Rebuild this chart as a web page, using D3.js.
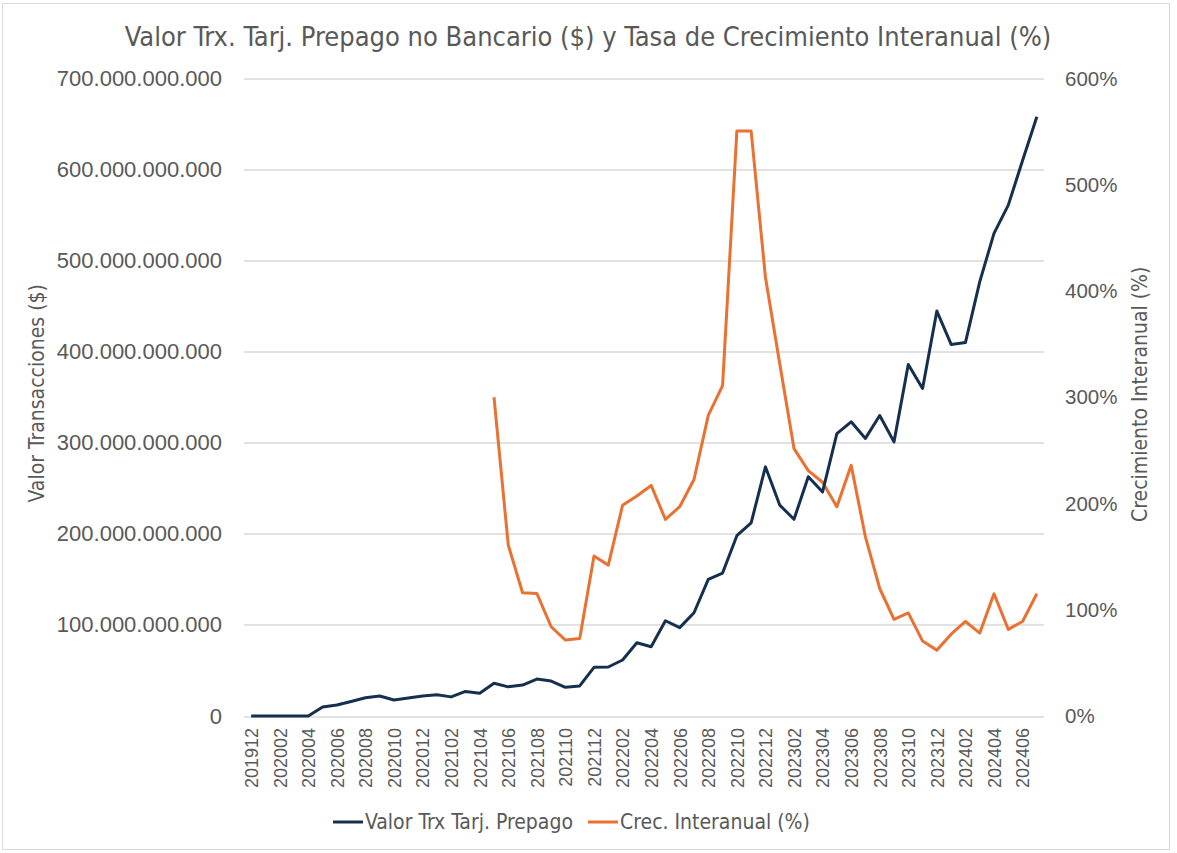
<!DOCTYPE html>
<html>
<head>
<meta charset="utf-8">
<script src="https://cdn.jsdelivr.net/npm/d3@7"></script>
<style>
  body { margin: 0; background: #fff; }
  .narrow { font-family: "Liberation Sans Narrow", "DejaVu Sans Condensed", "Liberation Sans", sans-serif; }
  .tick text { font-family: "Liberation Sans", Arial, sans-serif; fill: #595959; }
</style>
</head>
<body>
<div id="chart"></div>
<script>
// months (categories)
var months = ["201912","202001","202002","202003","202004","202005","202006","202007","202008","202009","202010","202011",
  "202012","202101","202102","202103","202104","202105","202106","202107","202108","202109","202110","202111",
  "202112","202201","202202","202203","202204","202205","202206","202207","202208","202209","202210","202211",
  "202212","202301","202302","202303","202304","202305","202306","202307","202308","202309","202310","202311",
  "202312","202401","202402","202403","202404","202405","202406","202407"];

// Valor Trx Tarj. Prepago, in billions ($ x 1e9)
var valorMM = [0,0,0,0,0,10,12,16,20,22,17.5,19.7,
  22,23.4,21,27,25,36,32,34,40.6,38.4,31.5,33,
  53.4,53.8,61.5,80.5,76,104.6,97,113.4,150,157,198,212,
  273.6,231.6,216,262.7,246,310,323,304.8,330,301,386,359.7,
  444.6,408,410,476.7,530,561,610,658];

// Crec. Interanual (%), starts at 202105
var crec = [null,null,null,null,null,null,null,null,null,null,null,null,
  null,null,null,null,null,300,160.8,116,115.4,84,71.5,73,
  150.5,142,198.4,207,217,185,197,222.6,283,311,550.5,550.5,
  413,331.7,251.7,231,220,197,236,168.6,120,91,97,70.5,
  62,77,89,78,115,81.5,89,115];

var leftTicks = [0,100,200,300,400,500,600,700];
var rightTicks = [0,1,2,3,4,5,6];

var svgWidth = 1177, svgHeight = 853;
var margin = {top: 78.5, bottom: 137, left: 244, right: 133};
var width = svgWidth - margin.left - margin.right;
var height = svgHeight - margin.top - margin.bottom;

var svg = d3.select("#chart").append("svg")
  .attr("width", svgWidth)
  .attr("height", svgHeight);

// frame
svg.append("rect")
  .attr("x", 2.5).attr("y", 3.5)
  .attr("width", 1167).attr("height", 846)
  .attr("fill", "#fff")
  .attr("stroke", "#d9d9d9");

var chartGroup = svg.append("g")
  .attr("transform", `translate(${margin.left}, ${margin.top})`);

var xScale = d3.scalePoint()
  .domain(months)
  .range([0, width])
  .padding(0.5);

var yLeft = d3.scaleLinear().domain([0, 700]).range([height, 0]);
var yRight = d3.scaleLinear().domain([0, 6]).range([height, 0]);

var locale = d3.formatLocale({decimal: ",", thousands: ".", grouping: [3], currency: ["$", ""]});
var fmtMoney = locale.format(",");

// gridlines
chartGroup.append("g")
  .selectAll("line")
  .data(leftTicks)
  .enter()
  .append("line")
  .attr("x1", 0).attr("x2", width)
  .attr("y1", d => Math.round(yLeft(d)) + 0.5)
  .attr("y2", d => Math.round(yLeft(d)) + 0.5)
  .attr("stroke", "#d9d9d9")
  .attr("stroke-width", 1.3);

// left axis
var yAxisLeft = d3.axisLeft(yLeft)
  .tickValues(leftTicks)
  .tickSize(0)
  .tickPadding(22)
  .tickFormat(d => d === 0 ? "0" : fmtMoney(d * 1e9));
var gl = chartGroup.append("g").call(yAxisLeft);
gl.select(".domain").remove();
gl.selectAll("text").attr("font-size", "22px");

// right axis
var yAxisRight = d3.axisRight(yRight)
  .tickValues(rightTicks)
  .tickSize(0)
  .tickPadding(21)
  .tickFormat(d3.format(".0%"));
var gr = chartGroup.append("g")
  .attr("transform", `translate(${width}, 0)`)
  .call(yAxisRight);
gr.select(".domain").remove();
gr.selectAll("text").attr("font-size", "20.5px");

// bottom axis
var xAxis = d3.axisBottom(xScale)
  .tickValues(months.filter((d, i) => i % 2 === 0))
  .tickSize(0);
var gx = chartGroup.append("g")
  .attr("transform", `translate(0, ${height})`)
  .call(xAxis);
gx.select(".domain").remove();
gx.selectAll("text")
  .attr("font-size", "18px")
  .attr("transform", "rotate(-90)")
  .attr("text-anchor", "end")
  .attr("x", -12)
  .attr("y", 0)
  .attr("dy", "0.35em");

// lines
var lineValor = d3.line()
  .x((d, i) => xScale(months[i]))
  .y(d => yLeft(d));

var lineCrec = d3.line()
  .defined(d => d !== null)
  .x((d, i) => xScale(months[i]))
  .y(d => yRight(d / 100));

chartGroup.append("path")
  .datum(crec)
  .attr("d", lineCrec)
  .attr("fill", "none")
  .attr("stroke", "#E97132")
  .attr("stroke-width", 3)
  .attr("stroke-linejoin", "round");

chartGroup.append("path")
  .datum(valorMM)
  .attr("d", lineValor)
  .attr("fill", "none")
  .attr("stroke", "#15304F")
  .attr("stroke-width", 3)
  .attr("stroke-linejoin", "round");

// title
svg.append("text")
  .attr("class", "narrow")
  .attr("x", 588)
  .attr("y", 46)
  .attr("text-anchor", "middle")
  .attr("font-size", "27px")
  .attr("fill", "#595959")
  .text("Valor Trx. Tarj. Prepago no Bancario ($) y Tasa de Crecimiento Interanual (%)");

// axis titles
svg.append("text")
  .attr("class", "narrow")
  .attr("transform", `translate(44, ${margin.top + height / 2 - 4}) rotate(-90)`)
  .attr("text-anchor", "middle")
  .attr("font-size", "21px")
  .attr("fill", "#595959")
  .text("Valor Transacciones ($)");

svg.append("text")
  .attr("class", "narrow")
  .attr("transform", `translate(1147, ${margin.top + height / 2 - 3}) rotate(-90)`)
  .attr("text-anchor", "middle")
  .attr("font-size", "21px")
  .attr("fill", "#595959")
  .text("Crecimiento Interanual (%)");

// legend
var legendItems = [
  {name: "Valor Trx Tarj. Prepago", color: "#15304F", x: 333},
  {name: "Crec. Interanual (%)", color: "#E97132", x: 588}
];
var legend = svg.append("g").attr("transform", "translate(0, 822)");
legendItems.forEach(function(item) {
  legend.append("line")
    .attr("x1", item.x).attr("x2", item.x + 30)
    .attr("y1", 0).attr("y2", 0)
    .attr("stroke", item.color)
    .attr("stroke-width", 3);
  legend.append("text")
    .attr("class", "narrow")
    .attr("x", item.x + 32)
    .attr("y", 0)
    .attr("dy", "0.35em")
    .attr("font-size", "21px")
    .attr("fill", "#595959")
    .text(item.name);
});
</script>
</body>
</html>
